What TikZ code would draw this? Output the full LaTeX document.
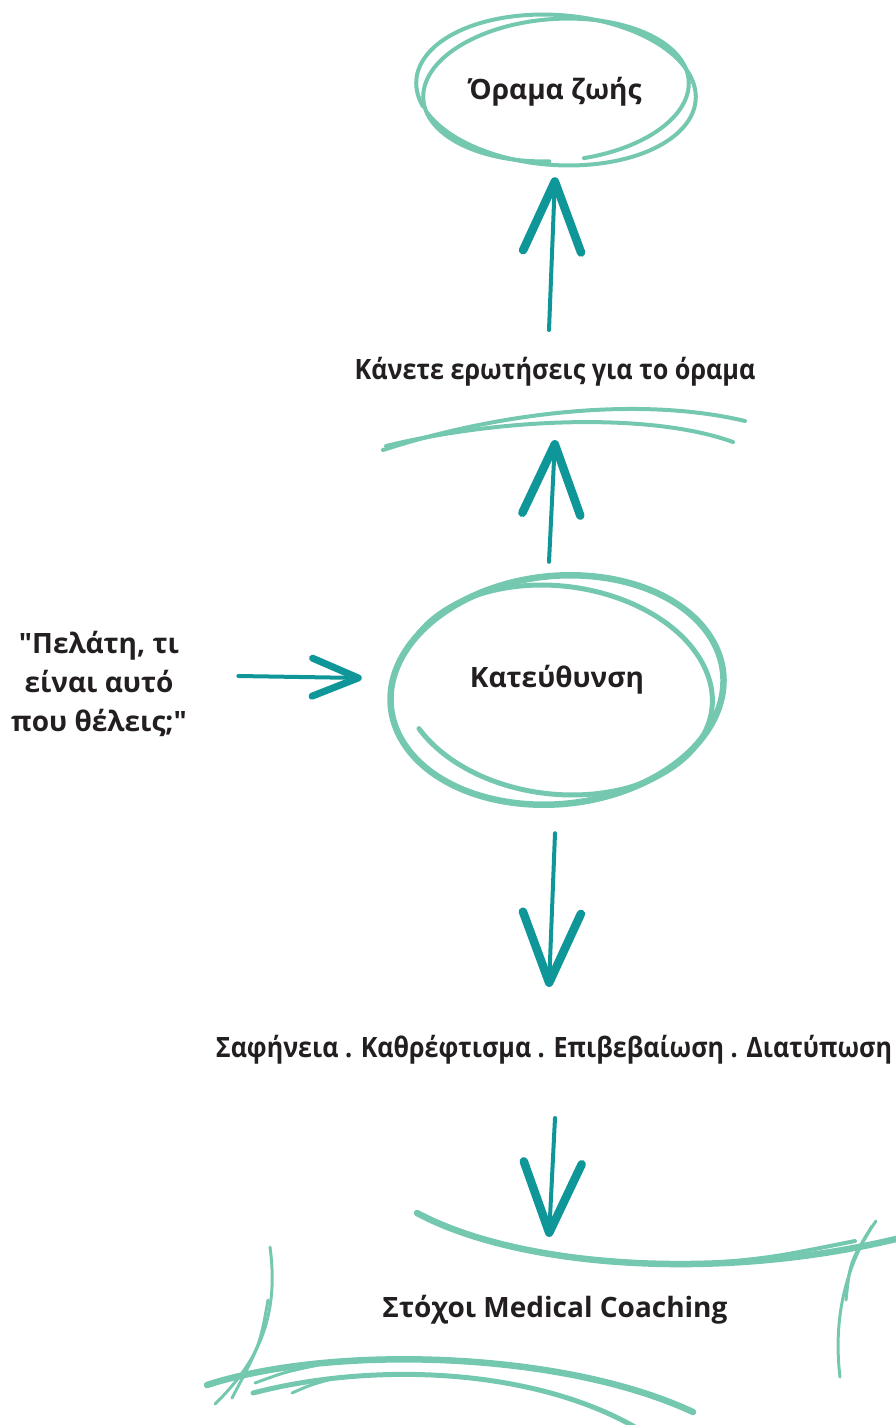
\documentclass[tikz,border=0pt]{standalone}
\usepackage{fontspec}
\setmainfont{Open Sans}[Ligatures=TeXOff]
\usetikzlibrary{arrows.meta,calc}

\definecolor{mint}{HTML}{74C8B0}
\definecolor{sea}{HTML}{0F9698}
\definecolor{ink}{HTML}{231F20}

\begin{document}
\begin{tikzpicture}[x=1pt,y=-1pt,
  lbl/.style={font=\fontsize{28}{39}\selectfont\bfseries, text=ink, align=center},
  ring/.style={draw=mint, line width=4pt, line cap=round},
  fatring/.style={draw=mint, line width=6.5pt, line cap=round},
  sketch/.style={draw=sea, line width=4pt, line cap=round,
    -{Straight Barb[length=70pt,width=58pt,line width=8.5pt,round]}},
  small sketch/.style={sketch, -{Straight Barb[length=46pt,width=38pt,line width=7pt,round]}}]
\useasboundingbox (0,0) rectangle (896,1425);

\node[lbl, minimum width=280, minimum height=170] (vision) at (555,92) {Όραμα ζωής};
\node[lbl] (ask) at (555,372) {\scalebox{0.9}[1]{Κάνετε ερωτήσεις για το όραμα}};
\node[lbl, minimum width=330, minimum height=236] (direction) at (557,680) {Κατεύθυνση};
\node[lbl] (client) at (99,684) {"Πελάτη, τι\\είναι αυτό\\που θέλεις;"};
\node[lbl] (tools) at (554,1050) {\scalebox{0.895}[1]{Σαφήνεια . Καθρέφτισμα . Επιβεβαίωση . Διατύπωση}};
\node[lbl] (goals) at (555,1310) {Στόχοι Medical Coaching};

%rings round the two circled words
\begin{scope}[shift={(556,90)}]
\draw[ring,rotate=-4] (160:140 and 75) arc[start angle=160, end angle=515, x radius=140, y radius=75];
\draw[ring,rotate=4] (95:133 and 71) arc[start angle=95, end angle=440, x radius=133, y radius=71];
\end{scope}
\begin{scope}[shift={(557,690)}]
\draw[fatring,rotate=6] (158:167 and 114) arc[start angle=158, end angle=-215, x radius=167, y radius=114];
\draw[ring,line width=5pt,rotate=-7] (200:156 and 104) arc[start angle=200, end angle=508, x radius=156, y radius=104];
\end{scope}

%strokes under the question
\draw[ring] (383,450) .. controls (500,412) and (640,396) .. (745,421);
\draw[ring] (386,446) .. controls (500,418) and (650,412) .. (733,442);

%frame of the goals
\draw[fatring] (417,1213) .. controls (520,1268) and (720,1282) .. (900,1238);
\draw[ring] (700,1264) .. controls (770,1258) .. (855,1241);
\draw[ring,line width=3pt] (876,1221) .. controls (845,1265) and (833,1320) .. (840,1377);
\draw[ring,line width=3pt] (872,1226) .. controls (850,1262) .. (846,1300);
\draw[ring,line width=3pt] (270,1247) .. controls (280,1320) and (255,1365) .. (215,1404);
\draw[ring,line width=3pt] (268,1300) .. controls (260,1345) .. (232,1398);
\draw[fatring] (207,1385) .. controls (330,1345) and (560,1350) .. (693,1412);
\draw[ring,line width=5pt] (253,1393) .. controls (380,1360) and (540,1370) .. (640,1430);
\draw[ring,line width=3pt] (255,1383) .. controls (285,1372) .. (318,1365);
\draw[ring,line width=3pt] (292,1393) .. controls (310,1385) .. (335,1378);

%arrows
\draw[sketch] ($(ask.north)+(-6,-24)$) -- (vision.south);
\draw[sketch] ($(direction.north)+(-8,0)$) -- ($(ask.south)+(0,50)$);
\draw[small sketch] ($(client.east)+(48,-8)$) -- ($(direction.west)+(-30,-2)$);
\draw[sketch] ($(direction.south)+(-2,35)$) -- ($(tools.north)+(-5,-45)$);
\draw[sketch] ($(tools.south)+(1,50)$) -- ($(goals.north)+(-6,-55)$);
\end{tikzpicture}
\end{document}
